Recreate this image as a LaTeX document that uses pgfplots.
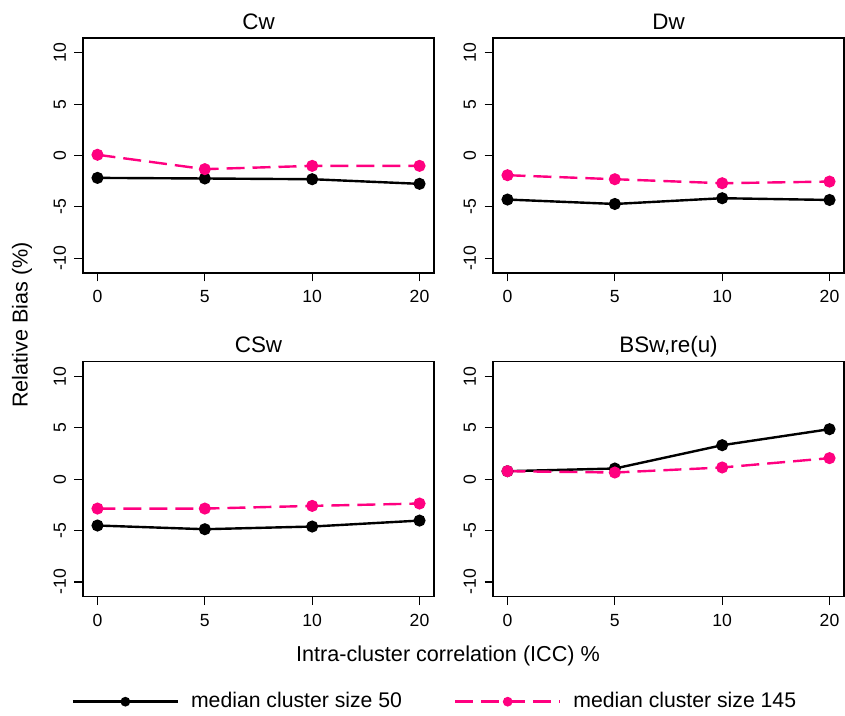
\documentclass[border=0pt]{standalone}
\usepackage{fontspec}
\setmainfont{Liberation Sans}
\usepackage{pgfplots}
\pgfplotsset{compat=1.18}
\definecolor{rpink}{RGB}{255,0,128}
\pgfplotsset{
 panel/.style={
  scale only axis, width=175.5pt, height=117.5pt,
  anchor=south west,
  xmin=-0.135, xmax=3.135, ymin=-11.44, ymax=11.44,
  xtick={0,1,2,3}, xticklabels={0,5,10,20},
  ytick={-10,-5,0,5,10}, yticklabels={-10,-5,0,5,10},
  tick align=outside, tick pos=left,
  major tick length=4.25pt,
  tick style={black, line width=0.6pt},
  axis line style={line width=0.8pt},
  ticklabel style={font=\fontsize{8.8}{10}\selectfont},
  xticklabel style={anchor=north, inner sep=0pt, yshift=-4.25pt},
  yticklabel style={rotate=90, anchor=south, inner sep=0pt, yshift=4pt},
  title style={at={(0.5,1)}, anchor=base, yshift=-1.6pt, inner sep=0pt, font=\fontsize{11.2}{13}\selectfont},
  clip=false,
 },
 s50/.style={black, line width=1.2pt, mark=*, mark size=2.4pt, mark options={solid}},
 s145/.style={rpink, line width=1.2pt, dash pattern=on 9pt off 4pt, mark=*, mark size=2.4pt, mark options={solid}},
}
\begin{document}
\begin{tikzpicture}
\path[use as bounding box] (0,0) rectangle (422.5pt,358pt);

\begin{axis}[panel, at={(41.5pt,221.5pt)}, title={Cw}]
\addplot[s50] coordinates {(0,-2.18) (1,-2.24) (2,-2.31) (3,-2.76)};
\addplot[s145] coordinates {(0,0.07) (1,-1.33) (2,-1.01) (3,-1.01)};
\end{axis}

\begin{axis}[panel, at={(246.5pt,221.5pt)}, title={Dw}]
\addplot[s50] coordinates {(0,-4.29) (1,-4.72) (2,-4.16) (3,-4.33)};
\addplot[s145] coordinates {(0,-1.92) (1,-2.31) (2,-2.70) (3,-2.54)};
\end{axis}

\begin{axis}[panel, at={(41.5pt,59.65pt)}, title={CSw}]
\addplot[s50] coordinates {(0,-4.51) (1,-4.87) (2,-4.61) (3,-4.03)};
\addplot[s145] coordinates {(0,-2.86) (1,-2.86) (2,-2.60) (3,-2.37)};
\end{axis}

\begin{axis}[panel, at={(246.5pt,59.65pt)}, title={BSw,re(u)},
  legend columns=2,
  legend style={at={(-1.2003,-0.4468)}, anchor=west, draw=none, fill=none, inner sep=0pt, outer sep=0pt,
    font=\fontsize{10.6}{12}\selectfont,
    /tikz/every odd column/.append style={column sep=4pt},
    /tikz/every even column/.append style={column sep=24pt}},
  legend cell align=left,
  legend image code/.code={
    \draw[#1, mark=none] (0pt,0pt) -- (52.5pt,0pt);
    \draw[#1, mark size=1.8pt] plot coordinates {(26.25pt,0pt)};
  }]
\addplot[s50] coordinates {(0,0.78) (1,1.04) (2,3.31) (3,4.87)};
\addlegendentry{median cluster size 50}
\addplot[s145] coordinates {(0,0.78) (1,0.65) (2,1.14) (3,2.05)};
\addlegendentry{median cluster size 145}
\end{axis}

\node[rotate=90, font=\fontsize{10.8}{12}\selectfont] at (11pt,195.5pt) {Relative Bias (\%)};
\node[anchor=base, font=\fontsize{10.8}{12}\selectfont] at (224pt,27pt) {Intra-cluster correlation (ICC) \%};
\end{tikzpicture}
\end{document}
